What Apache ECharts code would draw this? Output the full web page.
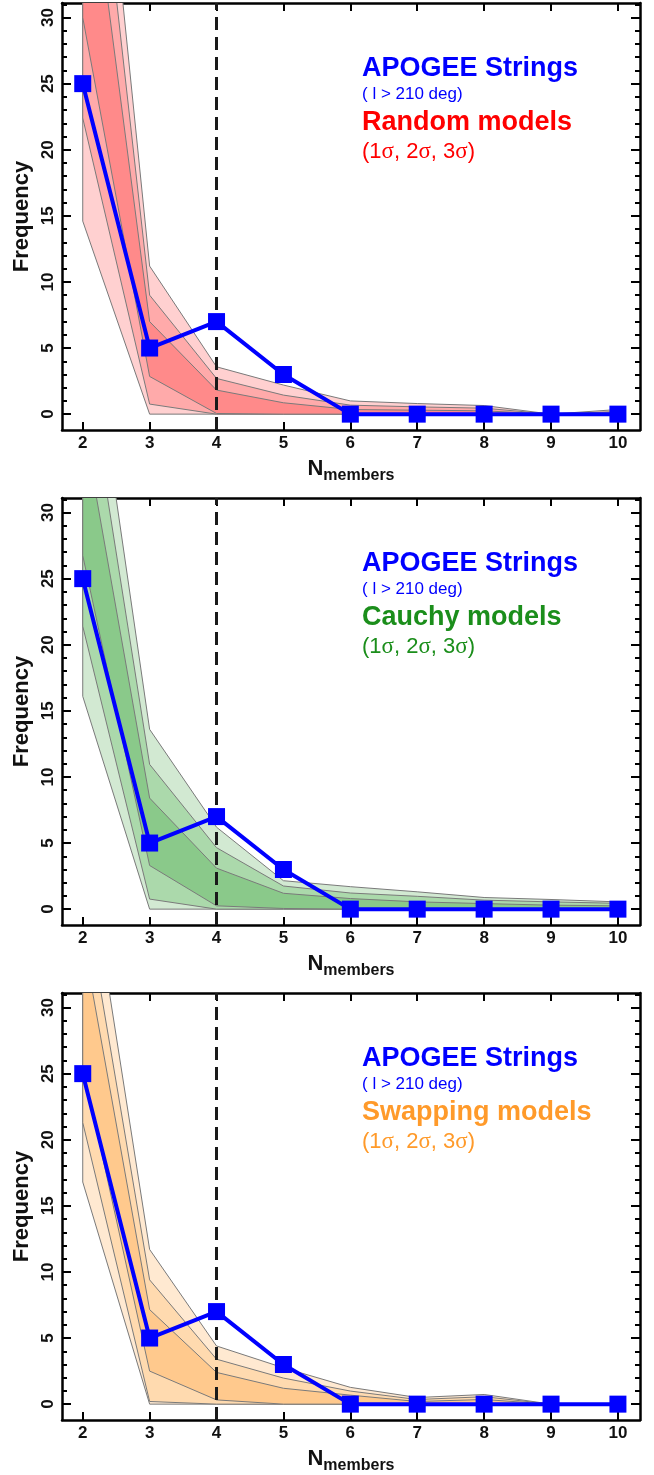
<!DOCTYPE html>
<html>
<head>
<meta charset="utf-8">
<script src="https://cdn.jsdelivr.net/npm/echarts@6/dist/echarts.min.js"></script>
<style>
html,body{margin:0;padding:0;background:#fff;}
#chart{width:654px;height:1475px;}
</style>
</head>
<body>
<div id="chart"></div>
<script>
// N_members on x
var nMembers = [2, 3, 4, 5, 6, 7, 8, 9, 10];
// APOGEE strings (l > 210 deg)
var apogee = [25, 5, 7, 3, 0, 0, 0, 0, 0];

// Random models: lower / upper edges of 3,2,1 sigma
var randLo3 = [14.6, 0, 0, 0, 0, 0, 0, 0, 0];
var randLo2 = [22.4, 0.76, 0, 0, 0, 0, 0, 0, 0];
var randLo1 = [30, 2.85, 0.05, 0, 0, 0, 0, 0, 0];
var randHi1 = [45.8, 7.0, 1.82, 0.86, 0.35, 0.3, 0.25, 0, 0.1];
var randHi2 = [54.1, 9.0, 2.7, 1.44, 0.68, 0.55, 0.45, 0, 0.2];
var randHi3 = [61, 11.2, 3.58, 2.2, 1.0, 0.8, 0.65, 0, 0.35];

// Cauchy models
var cauLo3 = [16.1, 0, 0, 0, 0, 0, 0, 0, 0];
var cauLo2 = [21.4, 0.76, 0, 0, 0, 0, 0, 0, 0];
var cauLo1 = [26.75, 3.3, 0.25, 0.05, 0, 0, 0, 0, 0];
var cauHi1 = [37, 8.4, 3.1, 1.2, 0.8, 0.55, 0.42, 0.3, 0.25];
var cauHi2 = [43, 10.95, 4.65, 1.75, 1.22, 0.97, 0.68, 0.55, 0.44];
var cauHi3 = [48.5, 13.6, 6.2, 2.15, 1.7, 1.31, 0.88, 0.73, 0.55];

// Swapping models
var swpLo3 = [16.8, 0, 0, 0, 0, 0, 0, 0, 0];
var swpLo2 = [21.3, 0.2, 0, 0, 0, 0, 0, 0, 0];
var swpLo1 = [25.5, 2.5, 0.32, 0, 0, 0, 0, 0, 0];
var swpHi1 = [35.3, 7.15, 2.4, 1.2, 0.68, 0.2, 0.35, 0, 0];
var swpHi2 = [39.3, 9.4, 3.4, 1.97, 0.99, 0.35, 0.56, 0, 0];
var swpHi3 = [44, 11.7, 4.4, 2.75, 1.27, 0.5, 0.73, 0, 0];

var xTicks = [2, 3, 4, 5, 6, 7, 8, 9, 10];
var yTicks = [0, 5, 10, 15, 20, 25, 30];
var yMinorTicks = [1, 2, 3, 4, 6, 7, 8, 9, 11, 12, 13, 14, 16, 17, 18, 19, 21, 22, 23, 24, 26, 27, 28, 29, 31];
var cutN = 4;

var panels = [
	{label: 'Random models', textColor: '#FF0000', fills: ['#FFD0D0', '#FFAAAA', '#FF8A8A'],
	 lo: [randLo3, randLo2, randLo1], hi: [randHi3, randHi2, randHi1]},
	{label: 'Cauchy models', textColor: '#1B8E1B', fills: ['#D2E9D2', '#ABD9AB', '#8AC98A'],
	 lo: [cauLo3, cauLo2, cauLo1], hi: [cauHi3, cauHi2, cauHi1]},
	{label: 'Swapping models', textColor: '#FF9A2A', fills: ['#FFE9D1', '#FFDAAF', '#FFC98D'],
	 lo: [swpLo3, swpLo2, swpLo1], hi: [swpHi3, swpHi2, swpHi1]}
];

var FONT = '"Liberation Sans", Arial, Helvetica, sans-serif';
var gridTops = [3, 498, 993];
var X_MIN = 1.69, X_MAX = 10.33, Y_MIN = -1.2, Y_MAX = 31.1;

var chart = echarts.init(document.getElementById('chart'));
var grids = [], xAxes = [], yAxes = [], series = [], graphics = [];

function frameLine() {
	return {show: true, onZero: false, lineStyle: {color: '#000', width: 2.5}};
}

// one filled polygon per sigma band (lo -> hi), clipped to the plot box
function bandRender(lo, hi, fill) {
	return function (params, api) {
		if (params.dataIndex !== 0) return null;
		var pts = [], j;
		for (j = 0; j < nMembers.length; j++) pts.push(api.coord([nMembers[j], hi[j]]));
		for (j = nMembers.length - 1; j >= 0; j--) pts.push(api.coord([nMembers[j], lo[j]]));
		var cs = params.coordSys;
		return {
			type: 'polygon',
			shape: {points: pts},
			style: {fill: fill, stroke: '#7a7a7a', lineWidth: 1},
			clipPath: {type: 'rect', shape: {x: cs.x, y: cs.y, width: cs.width, height: cs.height}}
		};
	};
}

panels.forEach(function (p, i) {
	var top = gridTops[i];
	grids.push({left: 62, right: 14, top: top, height: 427});

	// bottom x axis (labels + name)
	xAxes.push({
		gridIndex: i, type: 'value', min: X_MIN, max: X_MAX, position: 'bottom',
		axisLine: frameLine(), splitLine: {show: false},
		axisTick: {inside: true, length: 8, lineStyle: {color: '#000', width: 2}, customValues: xTicks},
		axisLabel: {customValues: xTicks, margin: 5, color: '#111', fontFamily: FONT, fontWeight: 'bold', fontSize: 17},
		name: '{n|N}{s|members}', nameLocation: 'middle', nameGap: 28,
		nameTextStyle: {
			rich: {
				n: {fontFamily: FONT, fontWeight: 'bold', fontSize: 22, color: '#111', lineHeight: 26, verticalAlign: 'top'},
				s: {fontFamily: FONT, fontWeight: 'bold', fontSize: 16, color: '#111', lineHeight: 26, padding: [7, 0, 0, 0], verticalAlign: 'bottom'}
			}
		}
	});
	// top mirror
	xAxes.push({
		gridIndex: i, type: 'value', min: X_MIN, max: X_MAX, position: 'top',
		axisLine: frameLine(), splitLine: {show: false},
		axisTick: {inside: true, length: 8, lineStyle: {color: '#000', width: 2}, customValues: xTicks},
		axisLabel: {show: false}
	});

	// left major (labels + name)
	yAxes.push({
		gridIndex: i, type: 'value', min: Y_MIN, max: Y_MAX, position: 'left',
		axisLine: frameLine(), splitLine: {show: false},
		axisTick: {inside: true, length: 9, lineStyle: {color: '#000', width: 2}, customValues: yTicks},
		axisLabel: {customValues: yTicks, rotate: 90, margin: 5, color: '#111', fontFamily: FONT, fontWeight: 'bold', fontSize: 17},
		name: 'Frequency', nameLocation: 'middle', nameGap: 29, nameRotate: 90, nameMoveOverlap: false,
		nameTextStyle: {fontFamily: FONT, fontWeight: 'bold', fontSize: 22, color: '#111'}
	});
	// left minor
	yAxes.push({
		gridIndex: i, type: 'value', min: Y_MIN, max: Y_MAX, position: 'left',
		axisLine: {show: false}, splitLine: {show: false},
		axisTick: {inside: true, length: 5, lineStyle: {color: '#000', width: 2}, customValues: yMinorTicks},
		axisLabel: {show: false}
	});
	// right major
	yAxes.push({
		gridIndex: i, type: 'value', min: Y_MIN, max: Y_MAX, position: 'right',
		axisLine: frameLine(), splitLine: {show: false},
		axisTick: {inside: true, length: 9, lineStyle: {color: '#000', width: 2}, customValues: yTicks},
		axisLabel: {show: false}
	});
	// right minor
	yAxes.push({
		gridIndex: i, type: 'value', min: Y_MIN, max: Y_MAX, position: 'right',
		axisLine: {show: false}, splitLine: {show: false},
		axisTick: {inside: true, length: 5, lineStyle: {color: '#000', width: 2}, customValues: yMinorTicks},
		axisLabel: {show: false}
	});

	// 3 sigma, 2 sigma, 1 sigma (nested, drawn outer first)
	for (var k = 0; k < 3; k++) {
		var lo = p.lo[k], hi = p.hi[k];
		series.push({
			type: 'custom', xAxisIndex: i * 2, yAxisIndex: i * 4, z: 2 + k * 0.1,
			silent: true, animation: false,
			data: nMembers.map(function (x, j) { return [x, lo[j], hi[j]]; }),
			encode: {x: 0, y: [1, 2]},
			renderItem: bandRender(lo, hi, p.fills[k])
		});
	}

	// dashed cut at N = 4
	series.push({
		type: 'line', xAxisIndex: i * 2, yAxisIndex: i * 4, data: [], z: 3, animation: false,
		markLine: {
			silent: true, symbol: ['none', 'none'], label: {show: false}, animation: false,
			lineStyle: {color: '#1a1a1a', width: 3, type: [13, 7]},
			data: [{xAxis: cutN}]
		}
	});

	// APOGEE strings
	series.push({
		type: 'line', xAxisIndex: i * 2, yAxisIndex: i * 4, z: 5, animation: false,
		data: nMembers.map(function (x, j) { return [x, apogee[j]]; }),
		symbol: 'rect', symbolSize: 17,
		lineStyle: {color: '#0000FF', width: 4},
		itemStyle: {color: '#0000FF'}
	});

	// annotation texts
	var tx = 362;
	graphics.push({type: 'text', left: tx, top: top + 67 - 15, z: 10,
		style: {text: 'APOGEE Strings', fill: '#0000FF', font: 'bold 27px ' + FONT}});
	graphics.push({type: 'text', left: tx, top: top + 93 - 10, z: 10,
		style: {text: '( l > 210 deg)', fill: '#0000FF', font: '17px ' + FONT}});
	graphics.push({type: 'text', left: tx, top: top + 121 - 15, z: 10,
		style: {text: p.label, fill: p.textColor, font: 'bold 27px ' + FONT}});
	graphics.push({type: 'text', left: tx, top: top + 150 - 13, z: 10,
		style: {text: '(1{g|σ}, 2{g|σ}, 3{g|σ})', fill: p.textColor, font: '22px ' + FONT,
			rich: {g: {fontFamily: '"Liberation Serif", serif', fontSize: 23, fill: p.textColor, color: p.textColor}}}});
});

chart.setOption({
	animation: false,
	backgroundColor: '#fff',
	grid: grids,
	xAxis: xAxes,
	yAxis: yAxes,
	series: series,
	graphic: graphics
});
</script>
</body>
</html>
